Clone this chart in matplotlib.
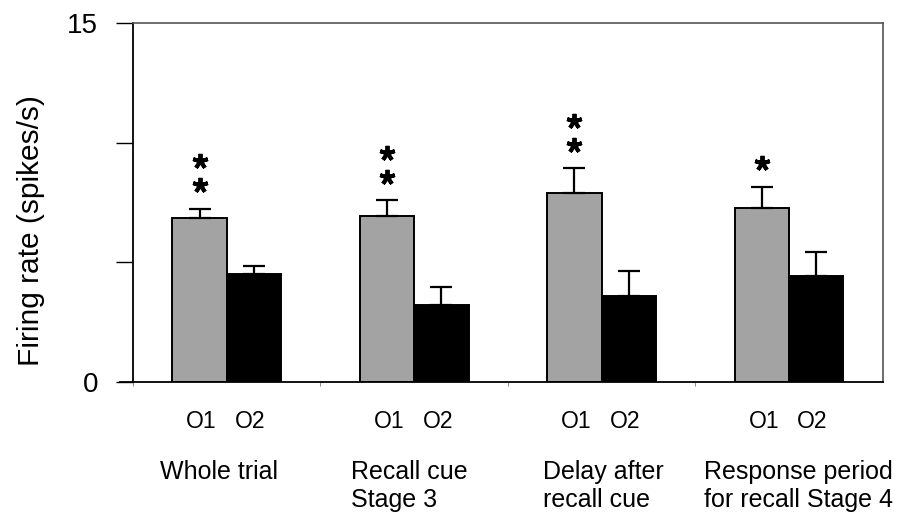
import numpy as np
import matplotlib
matplotlib.use("Agg")
import matplotlib.pyplot as plt

plt.rcParams['font.family'] = ['Liberation Sans', 'DejaVu Sans']

# data
periods = ['Whole trial', 'Recall cue\nStage 3', 'Delay after\nrecall cue',
           'Response period\nfor recall Stage 4']
o1_mean = [6.85, 6.95, 7.92, 7.29]
o1_err = [0.37, 0.64, 1.01, 0.87]
o2_mean = [4.51, 3.22, 3.60, 4.45]
o2_err = [0.35, 0.74, 1.06, 0.98]
n_stars = [2, 2, 2, 1]
yticks = [0, 5, 10, 15]
ytick_labels = ['0', '', '', '15']

fig = plt.figure(figsize=(8.99, 5.15), dpi=100)
ax = fig.add_axes([0.148, 0.258, 0.834, 0.697])

x = np.arange(len(periods)) + 0.5
w = 0.29

ax.bar(x - w / 2, o1_mean, w, color='#a3a3a3', edgecolor='black', linewidth=1.4, zorder=2)
ax.bar(x + w / 2, o2_mean, w, color='black', edgecolor='black', linewidth=1.4, zorder=2)
ax.errorbar(x - w / 2, o1_mean, yerr=[np.zeros(4), o1_err], fmt='none',
            ecolor='black', elinewidth=1.6, capsize=8, capthick=1.6, zorder=3)
ax.errorbar(x + w / 2, o2_mean, yerr=[np.zeros(4), o2_err], fmt='none',
            ecolor='black', elinewidth=1.6, capsize=8, capthick=1.6, zorder=3)

# significance stars above O1 bars
for xi, m, e, n in zip(x - w / 2, o1_mean, o1_err, n_stars):
    ys = [m + e + 1.0 * (k + 1) for k in range(n)]
    ax.plot([xi] * n, ys, linestyle='none', marker=(5, 2, 0), ms=11, mew=2.8,
            color='black', zorder=4)

ax.set_xlim(0, 4)
ax.set_ylim(0, 15)
ax.set_yticks(yticks)
ax.set_yticklabels(ytick_labels, fontsize=20)
ax.tick_params(axis='y', length=12, width=1, direction='out', pad=13)
ax.set_xticks([0, 1, 2, 3])
ax.set_xticklabels([])
ax.tick_params(axis='x', length=3, width=0.6, colors='#777777')

ax.set_ylabel('Firing rate (spikes/s)', fontsize=21.5)
ax.yaxis.set_label_coords(-0.118, 0.423)

for sp in ['left', 'bottom']:
    ax.spines[sp].set_linewidth(1.3)
    ax.spines[sp].set_color('black')
for sp in ['top', 'right']:
    ax.spines[sp].set_linewidth(1.2)
    ax.spines[sp].set_color('#555555')

# extend baseline to the left like in the original
ax.plot([-0.07, 0], [0, 0], color='black', lw=1.3, clip_on=False)

# O1 / O2 labels and period names below the axis
for xi in x:
    ax.text(xi - w / 2 + 0.01, -1.63, 'O1', ha='center', va='center', fontsize=16.5)
    ax.text(xi + w / 2 - 0.02, -1.63, 'O2', ha='center', va='center', fontsize=16.5)
label_dx = [-0.357, -0.335, -0.314, -0.453]
for xi, dx, name in zip(x, label_dx, periods):
    ax.text(xi + dx, -3.25, name, ha='left', va='top', fontsize=18, linespacing=1.2)

fig.savefig('out.png', dpi=100)
